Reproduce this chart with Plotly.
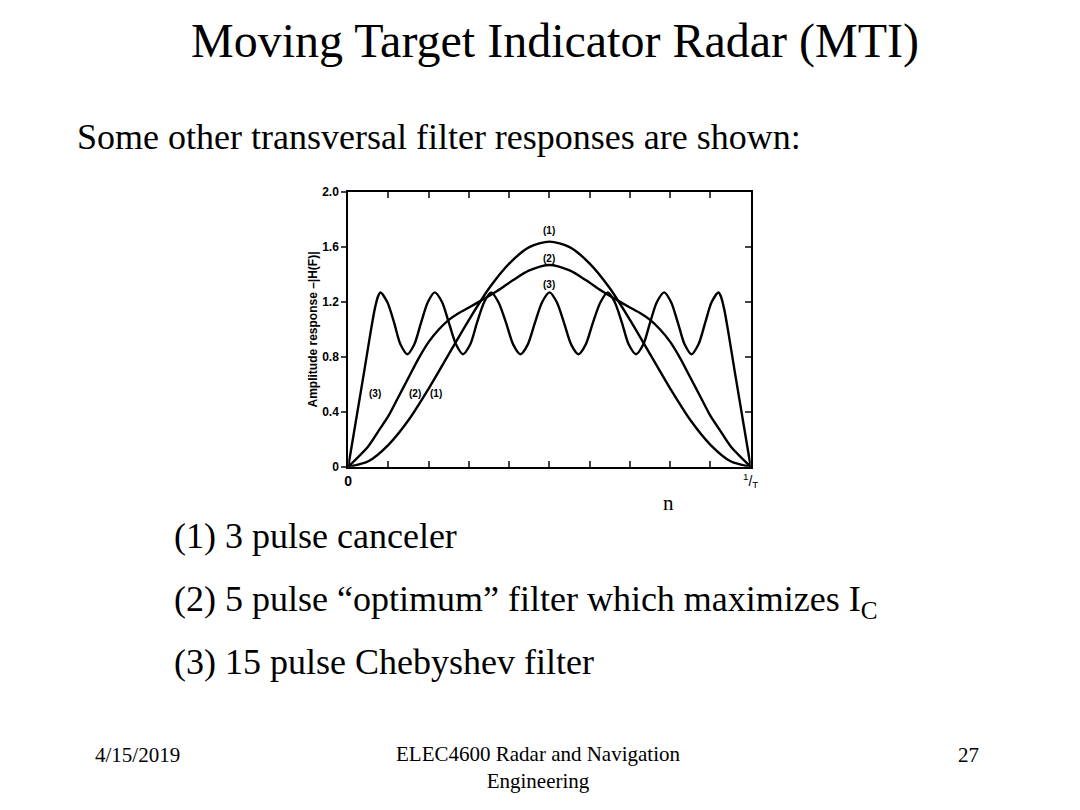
import plotly.graph_objects as go

# curve (1): 3 pulse canceler
x1 = [0, 0.05, 0.1, 0.15, 0.2, 0.25, 0.3, 0.35, 0.4, 0.45, 0.5,
      0.55, 0.6, 0.65, 0.7, 0.75, 0.8, 0.85, 0.9, 0.95, 1.0]
y1 = [0, 0.04, 0.16, 0.34, 0.57, 0.82, 1.07, 1.30, 1.48, 1.60, 1.64,
      1.60, 1.48, 1.30, 1.07, 0.82, 0.57, 0.34, 0.16, 0.04, 0]

# curve (2): 5 pulse optimum filter
x2 = [0, 0.05, 0.075, 0.1, 0.125, 0.15, 0.175, 0.2, 0.225, 0.25, 0.275, 0.3, 0.33, 0.37, 0.41, 0.45, 0.5,
      0.55, 0.59, 0.63, 0.67, 0.7, 0.725, 0.75, 0.775, 0.8, 0.825, 0.85, 0.875, 0.9, 0.925, 0.95, 1.0]
y2 = [0, 0.15, 0.26, 0.37, 0.51, 0.65, 0.79, 0.91, 1.00, 1.07, 1.12, 1.16, 1.21, 1.28, 1.36, 1.43, 1.47,
      1.43, 1.36, 1.28, 1.21, 1.16, 1.12, 1.07, 1.00, 0.91, 0.79, 0.65, 0.51, 0.37, 0.26, 0.15, 0]

# curve (3): 15 pulse Chebyshev filter
x3 = [0, 0.02, 0.04, 0.055, 0.066, 0.074, 0.08,
      0.097, 0.114, 0.130, 0.147, 0.164, 0.181, 0.198, 0.215,
      0.233, 0.250, 0.268, 0.285, 0.303, 0.320, 0.338, 0.355,
      0.373, 0.392, 0.410, 0.428, 0.446, 0.464, 0.482, 0.5,
      0.518, 0.536, 0.554, 0.572, 0.590, 0.608, 0.627, 0.645,
      0.662, 0.680, 0.697, 0.715, 0.733, 0.750, 0.767, 0.785,
      0.802, 0.819, 0.836, 0.853, 0.870, 0.887, 0.903, 0.92,
      0.926, 0.934, 0.945, 0.96, 0.98, 1.0]
y3 = [0, 0.35, 0.70, 0.97, 1.15, 1.24, 1.27,
      1.20, 1.05, 0.89, 0.82, 0.89, 1.05, 1.20, 1.27,
      1.20, 1.05, 0.89, 0.82, 0.89, 1.05, 1.20, 1.27,
      1.20, 1.05, 0.89, 0.82, 0.89, 1.05, 1.20, 1.27,
      1.20, 1.05, 0.89, 0.82, 0.89, 1.05, 1.20, 1.27,
      1.20, 1.05, 0.89, 0.82, 0.89, 1.05, 1.20, 1.27,
      1.20, 1.05, 0.89, 0.82, 0.89, 1.05, 1.20, 1.27,
      1.24, 1.15, 0.97, 0.70, 0.35, 0]

x_ticks = [0, 0.1, 0.2, 0.3, 0.4, 0.5, 0.6, 0.7, 0.8, 0.9, 1.0]
x_tick_text = ["<b>0</b>", "", "", "", "", "", "", "", "", "", "<sup>1</sup>/<sub>T</sub>"]
y_ticks = [0, 0.4, 0.8, 1.2, 1.6, 2.0]
y_tick_text = ["<b>0</b>", "<b>0.4</b>", "<b>0.8</b>", "<b>1.2</b>", "<b>1.6</b>", "<b>2.0</b>"]

# curve labels (x, y, text)
curve_labels = [
    (0.5, 1.72, "(1)"), (0.5, 1.52, "(2)"), (0.5, 1.325, "(3)"),
    (0.067, 0.535, "(3)"), (0.165, 0.535, "(2)"), (0.219, 0.535, "(1)"),
]

W, H = 1080, 810
OFF = 8  # page body margin
SERIF = "Liberation Serif, Times New Roman, serif"
SANS = "Liberation Sans, Arial, sans-serif"


def px(x):
    return (x - OFF) / W


def py(y):
    return 1 - (y - OFF) / H


fig = go.Figure()
for xs, ys in [(x1, y1), (x2, y2), (x3, y3)]:
    fig.add_trace(go.Scatter(x=xs, y=ys, mode="lines", line=dict(color="black", width=2.4, shape="spline", smoothing=0.8),
                             showlegend=False, hoverinfo="skip"))
# right-hand axis with inward ticks
fig.add_trace(go.Scatter(x=[0], y=[0], yaxis="y2", mode="markers", marker=dict(opacity=0), showlegend=False, hoverinfo="skip"))

for x, y, t in curve_labels:
    fig.add_annotation(x=x, y=y, text="<b>" + t + "</b>", showarrow=False, font=dict(family=SANS, size=10, color="black"))

x_dom = [px(348), px(755)]
y_dom = [py(467.7), py(188.3)]

fig.update_layout(
    width=W, height=H,
    paper_bgcolor="white", plot_bgcolor="white",
    margin=dict(l=0, r=0, t=0, b=0),
    xaxis=dict(domain=x_dom, range=[0, 1], tickvals=x_ticks, ticktext=x_tick_text, ticks="inside", ticklen=6,
               tickwidth=1.5, showline=True, linecolor="black", linewidth=2, mirror="ticks", showgrid=False,
               zeroline=False, tickfont=dict(family=SANS, size=14, color="black")),
    yaxis=dict(domain=y_dom, range=[0, 2.0], tickvals=y_ticks, ticktext=y_tick_text, ticks="outside", ticklen=5,
               tickwidth=1.5, showline=True, linecolor="black", linewidth=2, mirror=True, showgrid=False,
               zeroline=False, tickfont=dict(family=SANS, size=12, color="black"),
               title=dict(text="<b>Amplitude response –|H(F)|</b>", font=dict(family=SANS, size=12, color="black"),
                          standoff=2)),
    yaxis2=dict(overlaying="y", side="right", range=[0, 2.0], tickvals=y_ticks, ticks="inside", ticklen=6,
                tickwidth=1.5, showticklabels=False, showgrid=False, zeroline=False, showline=False),
)

texts = [
    (557, 34, "Moving Target Indicator Radar (MTI)", 48, "center"),
    (72, 132, "Some other transversal filter responses are shown:", 36, "left"),
    (170, 538, "(1) 3 pulse canceler", 36, "left"),
    (170, 605, "(2) 5 pulse “optimum” filter which maximizes I<sub>C</sub>", 36, "left"),
    (170, 666, "(3) 15 pulse Chebyshev filter", 36, "left"),
    (672, 505, "n", 21, "center"),
    (90, 761, "4/15/2019", 21, "left"),
    (540, 774, "ELEC4600 Radar and Navigation<br>Engineering", 21, "center"),
    (988, 761, "27", 21, "right"),
]
for x, y, t, s, a in texts:
    fig.add_annotation(x=px(x), y=py(y), xref="paper", yref="paper", text=t, showarrow=False, xanchor=a,
                       yanchor="middle", align="center", font=dict(family=SERIF, size=s, color="black"))

fig.write_html("out.html")
